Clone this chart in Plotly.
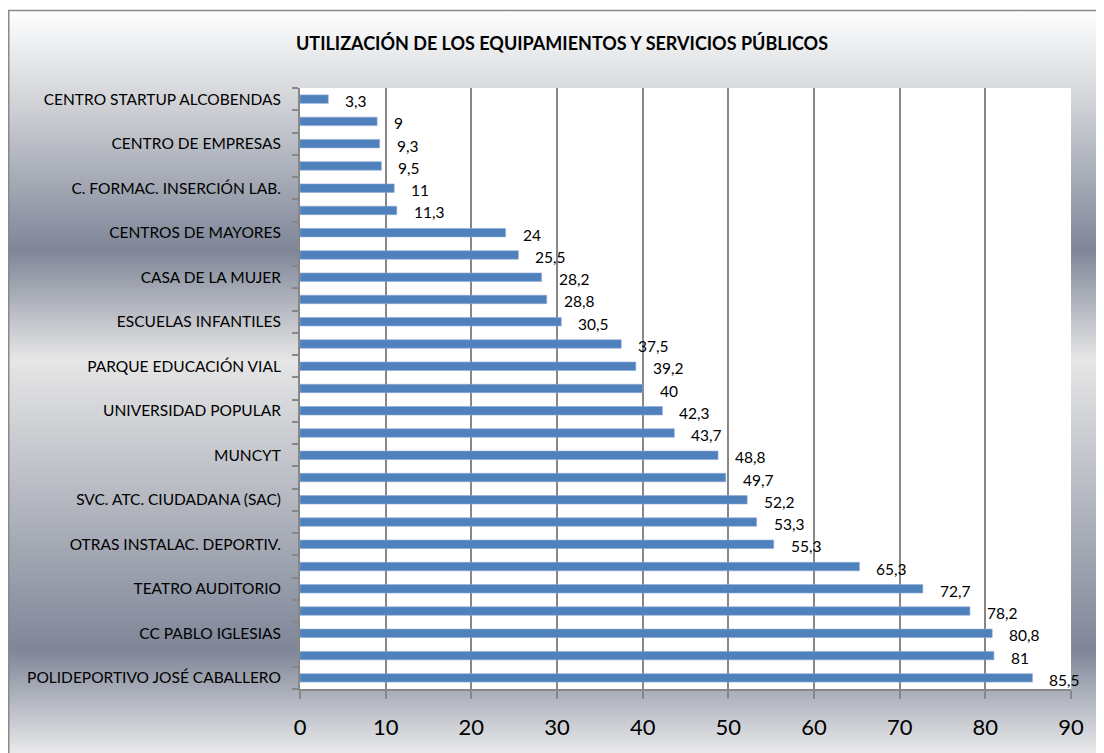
import base64
import plotly.graph_objects as go

# ---------------- data (bottom to top) ----------------
categories = [
    "POLIDEPORTIVO JOSÉ CABALLERO", "",
    "CC PABLO IGLESIAS", "",
    "TEATRO AUDITORIO", "",
    "OTRAS INSTALAC. DEPORTIV.", "",
    "SVC. ATC. CIUDADANA (SAC)", "",
    "MUNCYT", "",
    "UNIVERSIDAD POPULAR", "",
    "PARQUE EDUCACIÓN VIAL", "",
    "ESCUELAS INFANTILES", "",
    "CASA DE LA MUJER", "",
    "CENTROS DE MAYORES", "",
    "C. FORMAC. INSERCIÓN LAB.", "",
    "CENTRO DE EMPRESAS", "",
    "CENTRO STARTUP ALCOBENDAS",
]
values = [85.5, 81, 80.8, 78.2, 72.7, 65.3, 55.3, 53.3, 52.2, 49.7, 48.8, 43.7,
          42.3, 40, 39.2, 37.5, 30.5, 28.8, 28.2, 25.5, 24, 11.3, 11, 9.5, 9.3, 9, 3.3]
x_ticks = [0, 10, 20, 30, 40, 50, 60, 70, 80, 90]
title_text = "UTILIZACIÓN DE LOS EQUIPAMIENTOS Y SERVICIOS PÚBLICOS"

positions = list(range(len(values)))
labels_txt = [("%g" % v).replace(".", ",") for v in values]

# page has an 8px body margin, so the figure is drawn 8px in from the top-left
W, H = 1096, 745
L, R, T, B = 292, 33, 80, 64
PW, PH = W - L - R, H - T - B
FONT = "Lato, 'Open Sans', sans-serif"

fig = go.Figure()
fig.add_trace(go.Bar(
    x=values, y=positions, orientation="h", width=0.38,
    marker=dict(color="#4f81bd", line=dict(width=0.6, color="#8eaad6")),
    hoverinfo="x+y", showlegend=False,
))

for xv, yv, t in zip(values, positions, labels_txt):
    fig.add_annotation(x=xv, y=yv, text=t, showarrow=False, xanchor="left",
                       xshift=15, yshift=-2, font=dict(size=15.5, color="#000000", family=FONT))

# background gradient (Excel "silver" style) as an SVG image
y0g, y1g = 2, 752
span = y1g - y0g
svg = f'''<svg xmlns="http://www.w3.org/2000/svg" width="{W}" height="{H}" viewBox="0 0 {W} {H}">
<defs><linearGradient id="g" gradientUnits="userSpaceOnUse" x1="0" y1="{y0g}" x2="0" y2="{y1g}">
<stop offset="0" stop-color="#ffffff"/>
<stop offset="{90/span:.4f}" stop-color="#d2d4d8"/>
<stop offset="{240/span:.4f}" stop-color="#7f8698"/>
<stop offset="{350/span:.4f}" stop-color="#e6e6e6"/>
<stop offset="{640/span:.4f}" stop-color="#7f8698"/>
<stop offset="1" stop-color="#f0f0f0"/>
</linearGradient></defs>
<rect x="0.75" y="{y0g + 0.5}" width="1120" height="770" fill="url(#g)" stroke="#8a8a8a" stroke-width="1.5"/>
</svg>'''
src = "data:image/svg+xml;base64," + base64.b64encode(svg.encode("utf-8")).decode("ascii")
fig.add_layout_image(dict(source=src, xref="paper", yref="paper",
                          x=-L / PW, y=1 + T / PH, sizex=W / PW, sizey=H / PH,
                          xanchor="left", yanchor="top", sizing="stretch", layer="below"))
fig.add_shape(type="rect", xref="paper", yref="paper", x0=0, x1=1, y0=0, y1=1,
              fillcolor="#ffffff", line=dict(width=0), layer="below")

fig.update_layout(
    width=W, height=H, autosize=False,
    margin=dict(l=L, r=R, t=T, b=B),
    paper_bgcolor="#ffffff", plot_bgcolor="#ffffff",
    font=dict(family=FONT, color="#000000"),
    title=dict(text="<b>" + title_text + "</b>", x=(562 - 8) / W, xanchor="center",
               y=1 - (44 - 8) / H, yanchor="middle", font=dict(size=18, color="#000000", family=FONT)),
    xaxis=dict(range=[0, 90], tickvals=x_ticks, showgrid=True, gridcolor="#878787", gridwidth=2,
               zeroline=False, showline=True, linecolor="#878787", linewidth=2,
               ticks="outside", ticklen=8, tickcolor="#878787", tickwidth=1.5,
               ticklabelstandoff=10,
               tickfont=dict(size=22, color="#000000", family=FONT), fixedrange=True),
    yaxis=dict(range=[-0.5, len(values) - 0.5], tickvals=positions, ticktext=categories,
               showgrid=False, zeroline=False, showline=True, linecolor="#878787", linewidth=2,
               ticks="", ticklabelstandoff=14,
               minor=dict(ticks="outside", tick0=-0.5, dtick=1, ticklen=6,
                          tickcolor="#878787", tickwidth=1.5, showgrid=False),
               tickfont=dict(size=15.5, color="#000000", family=FONT), fixedrange=True),
)

fig.write_html("out.html")
